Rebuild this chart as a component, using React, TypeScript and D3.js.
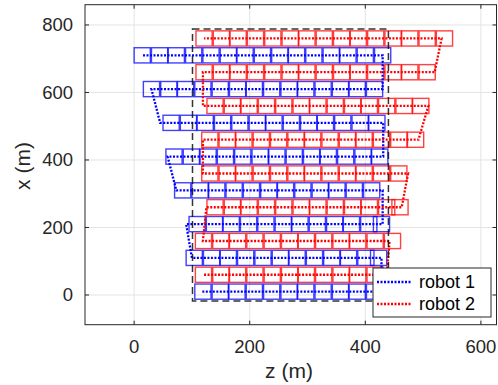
import * as d3 from "d3";
import { useEffect, useRef } from "react";

const X_TICKS = [0, 200, 400, 600];
const Y_TICKS = [0, 200, 400, 600, 800];

// robot 1 rows (x of the row) and the z centres of its footprints
const ROWS_BLUE = [10, 110, 210, 310, 410, 510, 610, 710];
const CELLS_BLUE = [
  [119, 149, 178, 208, 238, 268, 297, 327, 357, 386, 416],
  [104, 134, 163, 193, 223, 253, 282, 312, 342, 371, 401, 423],
  [109, 139, 168, 198, 228, 258, 287, 317, 347, 376, 406, 428],
  [84, 114, 143, 173, 203, 233, 262, 292, 322, 351, 381, 411],
  [69, 99, 128, 158, 188, 218, 247, 277, 307, 336, 366, 396, 425],
  [64, 94, 123, 153, 183, 213, 242, 272, 302, 331, 361, 391, 420],
  [30, 60, 89, 119, 149, 179, 208, 238, 268, 297, 327, 357, 386, 416],
  [14, 44, 73, 103, 133, 163, 192, 222, 252, 281, 311, 341, 370, 400, 430],
];

// robot 2
const ROWS_RED = [60, 160, 260, 360, 460, 560, 660, 760];
const CELLS_RED = [
  [120, 150, 179, 209, 239, 269, 298, 328, 358, 387, 417],
  [120, 150, 179, 209, 239, 269, 298, 328, 358, 387, 417, 447],
  [140, 170, 199, 229, 259, 289, 318, 348, 378, 407, 437, 460],
  [131, 161, 190, 220, 250, 280, 309, 339, 369, 398, 428, 458],
  [131, 161, 190, 220, 250, 280, 309, 339, 369, 398, 428, 458, 487],
  [140, 170, 199, 229, 259, 289, 318, 348, 378, 407, 437, 467, 496],
  [121, 151, 180, 210, 240, 270, 299, 329, 359, 388, 418, 448, 477, 507],
  [121, 151, 180, 210, 240, 270, 299, 329, 359, 388, 418, 448, 477, 507, 537],
];

// flight paths, [z, x]
const PATH_BLUE: [number, number][] = [
  [118, 10], [428, 10], [428, 110], [100, 110], [90, 210], [430, 210], [430, 310], [73, 310],
  [58, 410], [431, 410], [431, 510], [45, 510], [30, 610], [430, 610], [430, 710], [13, 710],
];
const PATH_RED: [number, number][] = [
  [121, 60], [437, 60], [442, 160], [119, 160], [125, 260], [463, 260], [474, 360], [119, 360],
  [119, 460], [492, 460], [509, 560], [119, 560], [119, 660], [520, 660], [532, 760], [121, 760],
];

const AREA = { z0: 101, z1: 440, x0: -18, x1: 788 };
const CELL_W = 28;
const CELL_H = 45;

const SERIES = [
  { name: "robot 1", color: "#0000ff", rows: ROWS_BLUE, cells: CELLS_BLUE, path: PATH_BLUE },
  { name: "robot 2", color: "#ff0000", rows: ROWS_RED, cells: CELLS_RED, path: PATH_RED },
];

export default function App() {
  const ref = useRef<SVGSVGElement | null>(null);
  useEffect(() => {
    if (!ref.current) return;
    const svg = d3.select(ref.current);
    svg.selectAll("*").remove();
    const W = 498, H = 385;
    const plot = { left: 85, right: 496.5, top: 4.7, bottom: 324.7 };
    const font = "'Liberation Sans', Arial, Helvetica, sans-serif";
    const axisColor = "#262626";
    const dots = "2,1.5";

    const x = d3.scaleLinear().domain([-85, 627]).range([plot.left, plot.right]);
    const y = d3.scaleLinear().domain([-88, 860]).range([plot.bottom, plot.top]);

    svg.attr("width", W).attr("height", H).attr("viewBox", `0 0 ${W} ${H}`);
    svg.append("rect").attr("width", W).attr("height", H).attr("fill", "#fff");

    // grid
    const grid = svg.append("g").attr("stroke", "#e3e3e3").attr("stroke-width", 1);
    grid.selectAll("line.v").data(X_TICKS).join("line")
      .attr("x1", (d) => x(d)).attr("x2", (d) => x(d))
      .attr("y1", plot.top).attr("y2", plot.bottom);
    grid.selectAll("line.h").data(Y_TICKS).join("line")
      .attr("x1", plot.left).attr("x2", plot.right)
      .attr("y1", (d) => y(d)).attr("y2", (d) => y(d));

    // footprints
    SERIES.forEach((s) => {
      const g = svg.append("g").attr("fill", "none").attr("stroke", s.color)
        .attr("stroke-width", 1.4).attr("stroke-opacity", 0.75);
      s.rows.forEach((rx, i) => {
        g.selectAll(null).data(s.cells[i]).join("rect")
          .attr("x", (d) => x(d - CELL_W / 2))
          .attr("y", y(rx + CELL_H / 2))
          .attr("width", (d) => x(d + CELL_W / 2) - x(d - CELL_W / 2))
          .attr("height", y(rx - CELL_H / 2) - y(rx + CELL_H / 2));
      });
    });

    // paths
    const line = d3.line<[number, number]>().x((d) => x(d[0])).y((d) => y(d[1]));
    SERIES.forEach((s) => {
      svg.append("path").attr("d", line(s.path)).attr("fill", "none")
        .attr("stroke", s.color).attr("stroke-width", 2.3)
        .attr("stroke-dasharray", dots);
    });

    // search area
    svg.append("rect")
      .attr("x", x(AREA.z0)).attr("y", y(AREA.x1))
      .attr("width", x(AREA.z1) - x(AREA.z0)).attr("height", y(AREA.x0) - y(AREA.x1))
      .attr("fill", "none").attr("stroke", "#111").attr("stroke-width", 1.5)
      .attr("stroke-opacity", 0.85).attr("stroke-dasharray", "7,4");

    // axes box + mirrored ticks
    const ax = svg.append("g").attr("stroke", axisColor).attr("stroke-width", 1).attr("fill", "none");
    ax.append("rect").attr("x", plot.left).attr("y", plot.top)
      .attr("width", plot.right - plot.left).attr("height", plot.bottom - plot.top);
    X_TICKS.forEach((t) => {
      ax.append("line").attr("x1", x(t)).attr("x2", x(t)).attr("y1", plot.bottom).attr("y2", plot.bottom - 4);
      ax.append("line").attr("x1", x(t)).attr("x2", x(t)).attr("y1", plot.top).attr("y2", plot.top + 4);
    });
    Y_TICKS.forEach((t) => {
      ax.append("line").attr("y1", y(t)).attr("y2", y(t)).attr("x1", plot.left).attr("x2", plot.left + 4);
      ax.append("line").attr("y1", y(t)).attr("y2", y(t)).attr("x1", plot.right).attr("x2", plot.right - 4);
    });

    const txt = svg.append("g").attr("font-family", font).attr("fill", axisColor);
    txt.selectAll("text.xt").data(X_TICKS).join("text")
      .attr("x", (d) => x(d)).attr("y", 352.5).attr("text-anchor", "middle")
      .attr("font-size", 18.5).text((d) => d);
    txt.selectAll("text.yt").data(Y_TICKS).join("text")
      .attr("x", 73).attr("y", (d) => y(d)).attr("dy", "0.35em").attr("text-anchor", "end")
      .attr("font-size", 18.5).text((d) => d);
    txt.append("text").attr("x", 289).attr("y", 378).attr("text-anchor", "middle")
      .attr("font-size", 21).text("z (m)");
    txt.append("text").attr("transform", "translate(30,166) rotate(-90)").attr("text-anchor", "middle")
      .attr("font-size", 21).text("x (m)");

    // legend
    const lg = svg.append("g");
    lg.append("rect").attr("x", 373).attr("y", 268).attr("width", 118).attr("height", 49)
      .attr("fill", "#fff").attr("stroke", axisColor).attr("stroke-width", 1);
    SERIES.forEach((s, i) => {
      const cy = 282 + i * 22;
      lg.append("line").attr("x1", 377).attr("x2", 411).attr("y1", cy).attr("y2", cy)
        .attr("stroke", s.color).attr("stroke-width", 2.3).attr("stroke-dasharray", dots);
      lg.append("text").attr("x", 419).attr("y", cy).attr("dy", "0.35em")
        .attr("font-family", font).attr("font-size", 18).attr("fill", "#000").text(s.name);
    });
  }, []);
  return (
    <svg ref={ref} role="img" aria-label="Robot coverage paths"
      style={{ position: "absolute", left: 0, top: 0, display: "block" }} />
  );
}
